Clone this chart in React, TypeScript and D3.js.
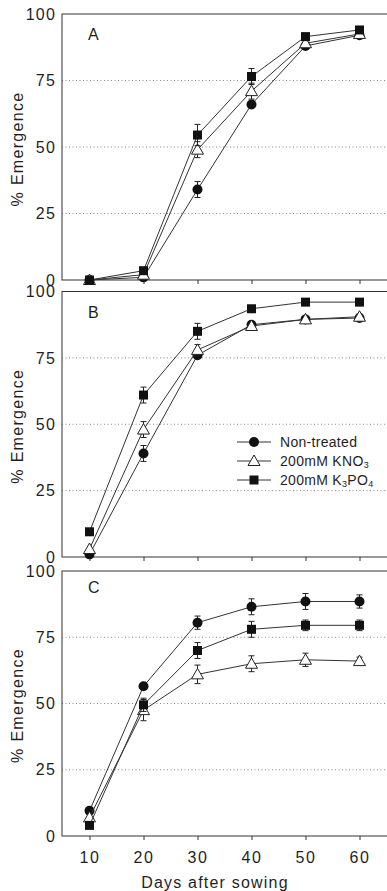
import React, { useEffect, useRef } from "react";
import * as d3 from "d3";

const days = [10, 20, 30, 40, 50, 60];
const yTicks = [0, 25, 50, 75, 100];
const panelLabels = ["A", "B", "C"];

// panel A
const aNon = [0, 1, 34, 66, 88, 92];
const aNonErr = [0, 0, 3, 1, 1, 1];
const aKno = [0, 2, 49, 71, 89, 92.5];
const aKnoErr = [0, 0, 3, 3, 1, 1];
const aKpo = [0, 3.5, 54.5, 76.5, 91.5, 94];
const aKpoErr = [0, 0, 4, 3, 1, 1];

// panel B
const bNon = [1, 39, 76, 87.5, 89.5, 90];
const bNonErr = [0, 3, 1, 1, 1, 1];
const bKno = [3, 48, 78, 87, 89.5, 90.5];
const bKnoErr = [0, 3, 2, 1, 1, 1];
const bKpo = [9.5, 61, 85, 93.5, 96, 96];
const bKpoErr = [0, 3, 3, 1, 0, 0];

// panel C
const cNon = [9.5, 56.5, 80.5, 86.5, 88.5, 88.5];
const cNonErr = [0, 1, 2.5, 3, 3, 2.5];
const cKno = [7, 47.5, 61, 65, 66.5, 66];
const cKnoErr = [0, 4, 3.5, 3, 2.5, 1.5];
const cKpo = [4, 49.5, 70, 78, 79.5, 79.5];
const cKpoErr = [0, 2.5, 3, 3, 2, 2];

const legendNames = ["Non-treated", "200mM KNO", "200mM K"];

const panels = [
  { top: 14, bottom: 280, series: [[aNon, aNonErr], [aKno, aKnoErr], [aKpo, aKpoErr]] },
  { top: 291.5, bottom: 557, series: [[bNon, bNonErr], [bKno, bKnoErr], [bKpo, bKpoErr]] },
  { top: 571, bottom: 836, series: [[cNon, cNonErr], [cKno, cKnoErr], [cKpo, cKpoErr]] },
];

const FONT = "'Liberation Sans', Arial, sans-serif";
const INK = "#1f1f1f";

export default function App() {
  const ref = useRef<SVGSVGElement>(null);

  useEffect(() => {
    const svg = d3.select(ref.current);
    svg.selectAll("*").remove();
    const left = 62, right = 392;
    const x = d3.scaleLinear().domain([10, 60]).range([89.5, 359.5]);

    // draw a marker by type
    const marker = (g: any, type: number, cx: number, cy: number) => {
      if (type === 0) {
        g.append("circle").attr("cx", cx).attr("cy", cy).attr("r", 5).attr("fill", "#111");
      } else if (type === 1) {
        const s = 6;
        g.append("path")
          .attr("d", `M${cx},${cy - s}L${cx + s},${cy + s * 0.75}L${cx - s},${cy + s * 0.75}Z`)
          .attr("fill", "#fff")
          .attr("stroke", "#222")
          .attr("stroke-width", 1);
      } else {
        g.append("rect").attr("x", cx - 4.5).attr("y", cy - 4.5).attr("width", 9).attr("height", 9).attr("fill", "#111");
      }
    };

    panels.forEach((p, pi) => {
      const y = d3.scaleLinear().domain([0, 100]).range([p.bottom, p.top]);
      const g = svg.append("g");

      // grid
      g.selectAll(".grid")
        .data([25, 50, 75])
        .enter()
        .append("line")
        .attr("x1", left)
        .attr("x2", right)
        .attr("y1", d => y(d))
        .attr("y2", d => y(d))
        .attr("stroke", "#888")
        .attr("stroke-width", 1)
        .attr("stroke-dasharray", "1,2.5");

      // frame
      g.append("rect")
        .attr("x", left)
        .attr("y", p.top)
        .attr("width", right - left)
        .attr("height", p.bottom - p.top)
        .attr("fill", "none")
        .attr("stroke", "#333")
        .attr("stroke-width", 1);

      // x axis
      const xa = g.append("g").attr("transform", `translate(0,${p.bottom})`)
        .call(d3.axisBottom(x).tickValues(days).tickSize(4).tickFormat(pi === 2 ? (d: any) => d : () => ""));
      xa.select(".domain").remove();
      xa.selectAll("line").attr("stroke", "#333");
      xa.selectAll("text")
        .attr("font-family", FONT)
        .attr("font-size", 16)
        .attr("letter-spacing", 1.5)
        .attr("fill", INK)
        .attr("dy", "1.25em");

      // y axis
      const ya = g.append("g").attr("transform", `translate(${left},0)`)
        .call(d3.axisLeft(y).tickValues(yTicks).tickSize(0).tickPadding(6));
      ya.select(".domain").remove();
      ya.selectAll("text")
        .attr("font-family", FONT)
        .attr("font-size", 16)
        .attr("letter-spacing", 1.2)
        .attr("fill", INK);

      // y title
      g.append("text")
        .attr("transform", `translate(23,${(p.top + p.bottom) / 2 + 2}) rotate(-90)`)
        .attr("text-anchor", "middle")
        .attr("font-family", FONT)
        .attr("font-size", 16)
        .attr("letter-spacing", 1.3)
        .attr("fill", INK)
        .text("% Emergence");

      // panel letter
      g.append("text")
        .attr("x", 88)
        .attr("y", p.top + (pi === 2 ? 22 : 26))
        .attr("font-family", FONT)
        .attr("font-size", 16)
        .attr("fill", INK)
        .text(panelLabels[pi]);

      const line = d3.line<number>().x((d, i) => x(days[i])).y(d => y(d));

      p.series.forEach(([vals, errs], si) => {
        const sg = g.append("g");
        sg.append("path")
          .attr("d", line(vals))
          .attr("fill", "none")
          .attr("stroke", "#333")
          .attr("stroke-width", 1);
        vals.forEach((v, i) => {
          const e = errs[i];
          if (e > 0) {
            const cx = x(days[i]);
            sg.append("path")
              .attr("d", `M${cx},${y(v - e)}V${y(v + e)}M${cx - 3},${y(v - e)}H${cx + 3}M${cx - 3},${y(v + e)}H${cx + 3}`)
              .attr("stroke", "#222")
              .attr("fill", "none")
              .attr("stroke-width", 1);
          }
        });
        vals.forEach((v, i) => marker(sg, si, x(days[i]), y(v)));
      });
    });

    // legend in panel B
    const lg = svg.append("g");
    const subs = ["", "3", "4"];
    legendNames.forEach((name, i) => {
      const ly = 442 + i * 19;
      lg.append("line").attr("x1", 237).attr("x2", 271).attr("y1", ly).attr("y2", ly).attr("stroke", "#333");
      marker(lg, i, 254, ly);
      const t = lg.append("text")
        .attr("x", 280)
        .attr("y", ly + 5)
        .attr("font-family", FONT)
        .attr("font-size", 14)
        .attr("letter-spacing", 0.3)
        .attr("fill", INK);
      t.append("tspan").text(name);
      if (i === 2) {
        t.append("tspan").attr("font-size", 9).attr("dy", 2).text("3");
        t.append("tspan").attr("dy", -2).text("PO");
        t.append("tspan").attr("font-size", 9).attr("dy", 2).text(subs[i]);
      } else if (i === 1) {
        t.append("tspan").attr("font-size", 9).attr("dy", 2).text(subs[i]);
      }
    });

    svg.append("text")
      .attr("x", 215)
      .attr("y", 888)
      .attr("text-anchor", "middle")
      .attr("font-family", FONT)
      .attr("font-size", 16)
      .attr("letter-spacing", 1.2)
      .attr("fill", INK)
      .text("Days after sowing");
  }, []);

  return (
    <svg
      ref={ref}
      width={387}
      height={891}
      style={{ position: "absolute", left: 0, top: 0, background: "#fff" }}
    />
  );
}
